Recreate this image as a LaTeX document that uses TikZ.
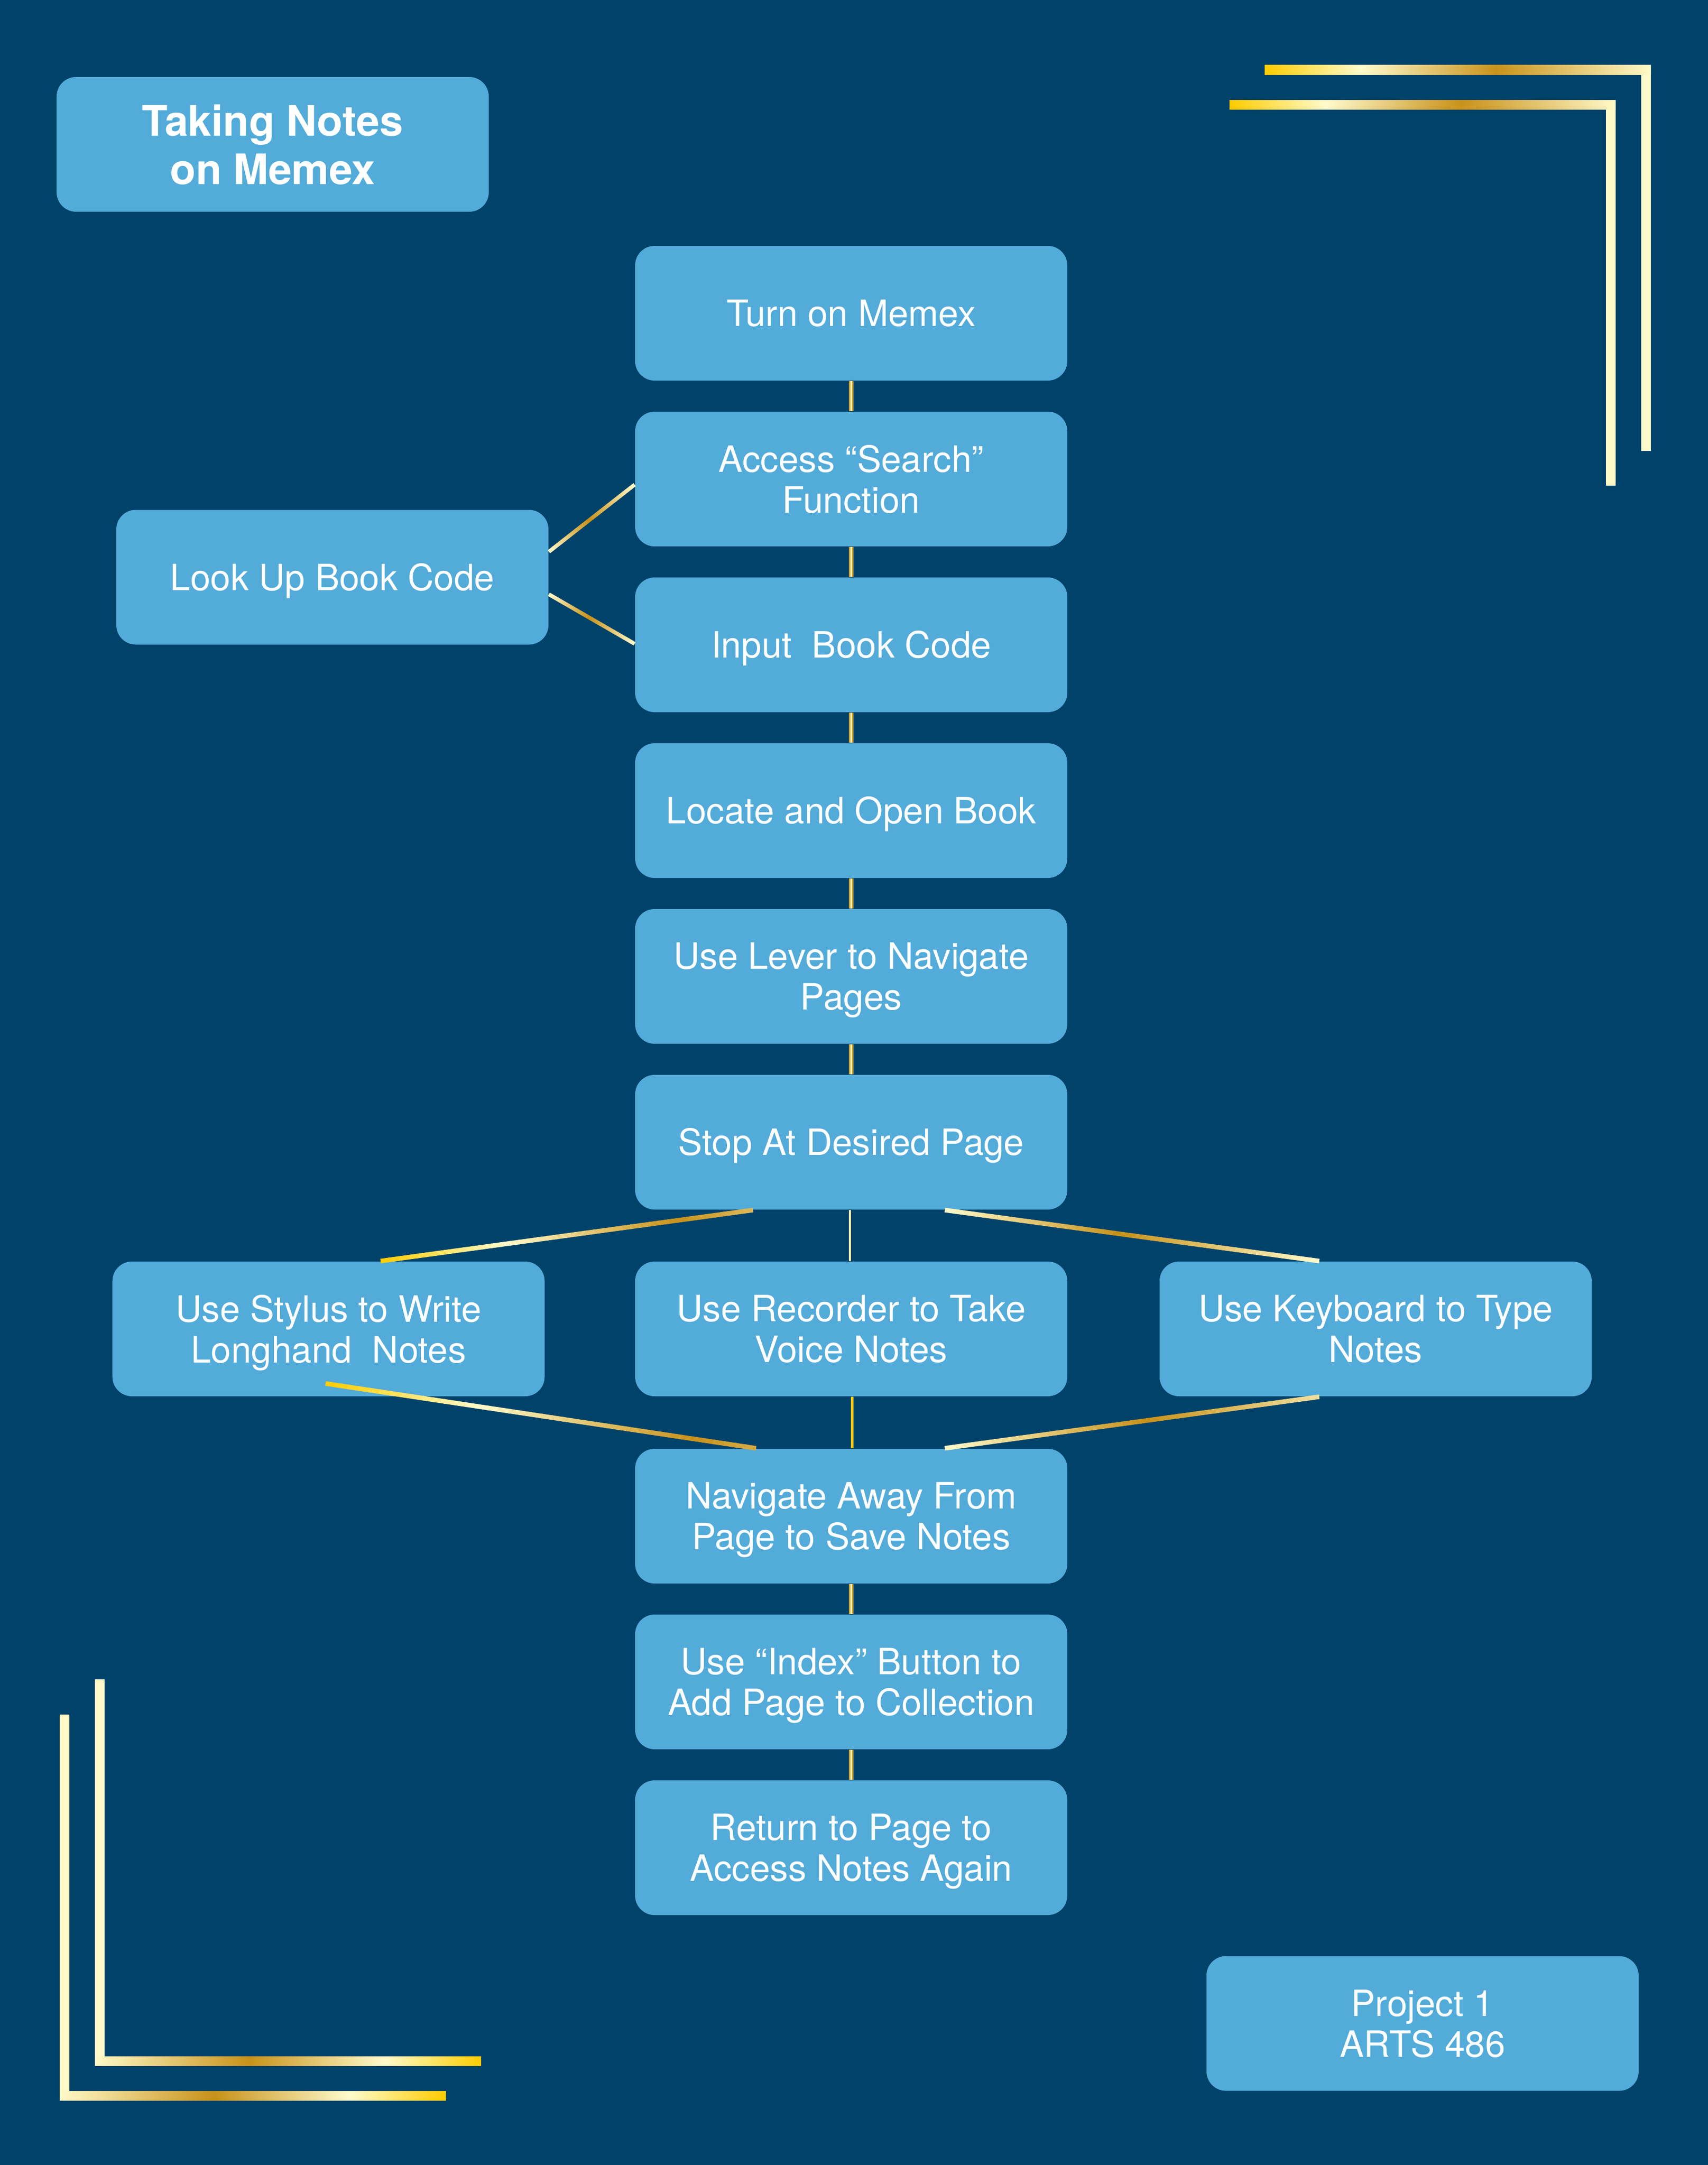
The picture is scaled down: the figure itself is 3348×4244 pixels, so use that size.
\documentclass[tikz,border=0pt]{standalone}
\usepackage{fontspec}
\setmainfont{TeX Gyre Heros}
\usetikzlibrary{calc}
\definecolor{bg}{RGB}{0,66,106}
\definecolor{boxblue}{RGB}{82,171,217}
\definecolor{gyellow}{RGB}{255,204,0}
\definecolor{pale}{RGB}{255,251,204}
\definecolor{dgold}{RGB}{200,146,26}
\definecolor{cream}{RGB}{255,250,200}
\definecolor{vgold}{RGB}{212,165,45}
\definecolor{paleline}{RGB}{255,246,180}
\pgfdeclarehorizontalshading{goldR}{100bp}{color(0bp)=(gyellow); color(25bp)=(gyellow); color(37.5bp)=(pale); color(55bp)=(dgold); color(75bp)=(cream); color(100bp)=(cream)}
\pgfdeclarehorizontalshading{goldL}{100bp}{color(0bp)=(cream); color(25bp)=(cream); color(45bp)=(dgold); color(62.5bp)=(pale); color(75bp)=(gyellow); color(100bp)=(gyellow)}
\newcommand{\gradline}[5]{%
  \foreach \k in {0,...,39}{%
    \pgfmathsetmacro{\gA}{#4+(#5-#4)*(\k+0.5)/40}%
    \pgfmathsetmacro{\sA}{\k/40}%
    \pgfmathsetmacro{\sB}{min((\k+1)/40+0.004,1)}%
    \ifdim\gA pt<0.25pt
      \pgfmathsetmacro{\pc}{100*\gA/0.25}\colorlet{segc}{pale!\pc!gyellow}%
    \else\ifdim\gA pt<0.6pt
      \pgfmathsetmacro{\pc}{100*(\gA-0.25)/0.35}\colorlet{segc}{dgold!\pc!pale}%
    \else
      \pgfmathsetmacro{\pc}{100*(\gA-0.6)/0.4}\colorlet{segc}{pale!\pc!dgold}%
    \fi\fi
    \draw[segc, line width=#3] ($(#1)!\sA!(#2)$) -- ($(#1)!\sB!(#2)$);
  }%
}
\tikzset{
  box/.style={fill=boxblue, rounded corners=7.6pt, minimum width=169.4pt,
    minimum height=52.8pt, inner sep=0pt, align=center, text=white,
    font=\fontsize{14.2}{16}\selectfont, text depth=0pt},
  one/.style={text height=10.2pt},
  titlebox/.style={box, font=\fontsize{16.5}{19}\selectfont\bfseries},
  vline/.style={draw=vgold, line width=0.6pt, double=pale, double distance=0.6pt},
}
\begin{document}
\begin{tikzpicture}[x=0.2pt, y=-0.2pt]
\useasboundingbox (0,0) rectangle (3348,4244);
\fill[bg] (0,0) rectangle (3348,4244);
% corner frames
\fill[cream] (3217,127) rectangle (3236,884);
\shade[shading=goldR] (2479,127) rectangle (3236,146);
\fill[cream] (3148,196) rectangle (3167,952);
\shade[shading=goldR] (2410,196) rectangle (3167,214);
\fill[cream] (186,3292) rectangle (205,4049);
\shade[shading=goldL] (186,4031) rectangle (943,4049);
\fill[cream] (117,3361) rectangle (136,4117);
\shade[shading=goldL] (117,4099) rectangle (874,4117);
% nodes
\node[titlebox] (title) at (534.5,283) {Taking Notes\\on Memex};
\node[box, one] (turn) at (1668.5,614) {Turn on Memex};
\node[box] (access) at (1668.5,939) {Access “Search”\\Function};
\node[box, one] (input) at (1668.5,1264) {Input\ \ Book Code};
\node[box, one] (locate) at (1668.5,1589) {Locate and Open Book};
\node[box] (lever) at (1668.5,1914) {Use Lever to Navigate\\Pages};
\node[box, one] (stop) at (1668.5,2239) {Stop At Desired Page};
\node[box, one] (lookup) at (651.5,1131.5) {Look Up Book Code};
\node[box] (stylus) at (644,2605) {Use Stylus to Write\\Longhand\ \ Notes};
\node[box] (recorder) at (1668.5,2605) {Use Recorder to Take\\Voice Notes};
\node[box] (keyboard) at (2696.5,2605) {Use Keyboard to Type\\Notes};
\node[box] (navigate) at (1668.5,2972) {Navigate Away From\\Page to Save Notes};
\node[box] (index) at (1668.5,3297) {Use “Index” Button to\\Add Page to Collection};
\node[box] (return) at (1668.5,3622) {Return to Page to\\Access Notes Again};
\node[box] (project) at (2788.5,3966.5) {Project 1\\ARTS 486};
% vertical connectors
\draw[vline] (turn.south) -- (access.north);
\draw[vline] (access.south) -- (input.north);
\draw[vline] (input.south) -- (locate.north);
\draw[vline] (locate.south) -- (lever.north);
\draw[vline] (lever.south) -- (stop.north);
\draw[vline] (navigate.south) -- (index.north);
\draw[vline] (index.south) -- (return.north);
\draw[paleline, line width=0.8pt] ($(stop.south)+(-3,0)$) -- ($(recorder.north)+(-3,0)$);
\draw[gyellow, line width=1pt] ($(recorder.south)+(2,0)$) -- ($(navigate.north)+(2,0)$);
% diagonal connectors
\coordinate (la) at ($(lookup.east)+(0,-50)$);
\coordinate (lb) at ($(access.west)+(0,11)$);
\coordinate (lc) at ($(lookup.east)+(0,33.5)$);
\coordinate (ld) at ($(input.west)+(0,-2)$);
\coordinate (sa) at ($(stop.south)+(-192.5,0)$);
\coordinate (sb) at ($(stylus.north)+(102,0)$);
\coordinate (sc) at ($(stop.south)+(183.5,0)$);
\coordinate (sd) at ($(keyboard.north)+(-110.5,0)$);
\coordinate (na) at ($(stylus.center)+(-6,107)$);
\coordinate (nb) at ($(navigate.north)+(-186.5,0)$);
\coordinate (nc) at ($(keyboard.south)+(-110.5,0)$);
\coordinate (nd) at ($(navigate.north)+(183.5,0)$);
\gradline{la}{lb}{1.5pt}{0.25}{1}
\gradline{lc}{ld}{1.5pt}{0.25}{1}
\gradline{sa}{sb}{1.8pt}{0.75}{0}
\gradline{sc}{sd}{1.8pt}{0.25}{1}
\gradline{na}{nb}{1.8pt}{0}{0.7}
\gradline{nc}{nd}{1.8pt}{0.9}{0.25}
\end{tikzpicture}
\end{document}
